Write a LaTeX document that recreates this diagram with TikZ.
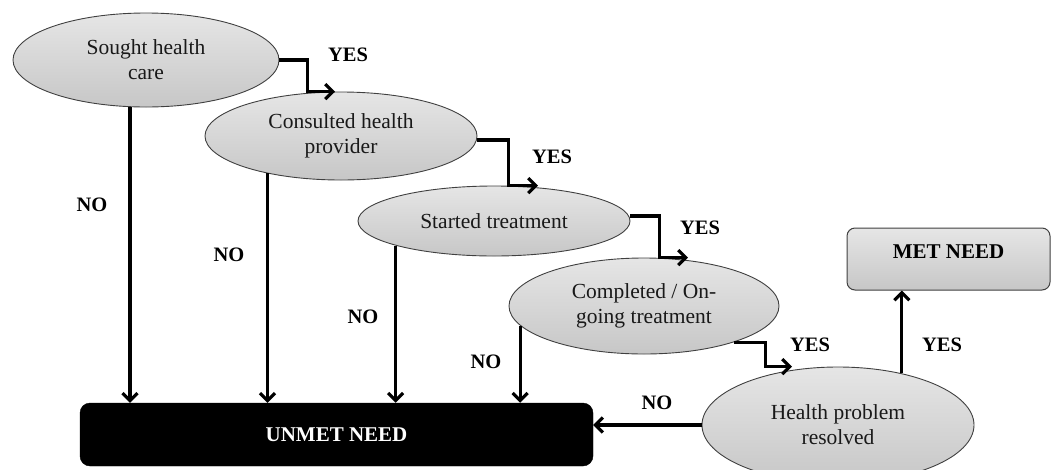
\documentclass[tikz,border=0pt]{standalone}
\usepackage{fontspec}
\setmainfont{Liberation Serif}
\usetikzlibrary{shapes.geometric,arrows.meta}
\begin{document}
\begin{tikzpicture}[x=1pt,y=-1pt,
  oval/.style={ellipse, draw=black!75, line width=0.9pt, top color=black!10, bottom color=black!22, inner sep=0pt,
    align=center, text=black!90, font=\fontsize{21.5}{25}\selectfont},
  metbox/.style={rectangle, rounded corners=8pt, draw=black!75, line width=1pt, top color=black!10, bottom color=black!22,
    minimum width=203, minimum height=62, inner sep=0pt, font=\bfseries\fontsize{21}{25}\selectfont},
  unmetbox/.style={rectangle, rounded corners=10pt, draw=black, fill=black, text=white,
    minimum width=513, minimum height=63, inner sep=0pt, font=\bfseries\fontsize{21}{25}\selectfont},
  arr/.style={line width=3.2pt, draw=black, -{Straight Barb[length=7.5pt,width=15pt]}},
  lab/.style={font=\bfseries\fontsize{20.5}{24}\selectfont, inner sep=0pt}
]
\useasboundingbox (0,0) rectangle (1052,469);
% decision ovals
\node[oval, minimum width=266, minimum height=94]  (s) at (146,60)  {Sought health\\care};
\node[oval, minimum width=272, minimum height=88]  (c) at (341,136) {Consulted health\\provider};
\node[oval, minimum width=272, minimum height=70]  (t) at (494,221) {Started treatment};
\node[oval, minimum width=270, minimum height=96]  (p) at (644,306) {Completed / On-\\going treatment};
\node[oval, minimum width=272, minimum height=116] (h) at (838,425) {Health problem\\resolved};
% outcome boxes
\node[metbox]   (m) at (948.5,259) {\raisebox{7pt}[\height][\depth]{MET NEED}};
\node[unmetbox] (u) at (336.5,434.5) {UNMET NEED};
% NO arrows
\draw[arr] ([xshift=-16]s.south) -- ([xshift=-16]s.south |- u.north);
\draw[arr] (c.207.8) -- (c.207.8 |- u.north);
\draw[arr] (t.194.5) -- (t.194.5 |- u.north);
\draw[arr] (p.189.1) -- (p.189.1 |- u.north);
\draw[arr] (h.west) -- (h.west -| u.east);
% YES arrows
\draw[arr] (s.east) -- ++(28,0) |- ([xshift=-6]c.north);
\draw[arr] ([yshift=-4]c.east) -- ++(31,0) |- ([xshift=44]t.north);
\draw[arr] ([yshift=5]t.east) -- ++(29,0) |- ([xshift=44]p.north);
\draw[arr] (p.338.7) -- ++(32,0) |- ([xshift=-46]h.north);
\draw[arr] (h.39.8) -- (h.39.8 |- m.south);
% labels
\node[lab] (y1) at (348,55)  {YES};
\node[lab] (y2) at (552,157) {YES};
\node[lab] (y3) at (700,228) {YES};
\node[lab] (y4) at (810,345) {YES};
\node[lab] (y5) at (942,345) {YES};
\node[lab] (n1) at (92,205)  {NO};
\node[lab] (n2) at (229,255) {NO};
\node[lab] (n3) at (363,317) {NO};
\node[lab] (n4) at (486,362) {NO};
\node[lab] (n5) at (657,403) {NO};
\end{tikzpicture}
\end{document}
